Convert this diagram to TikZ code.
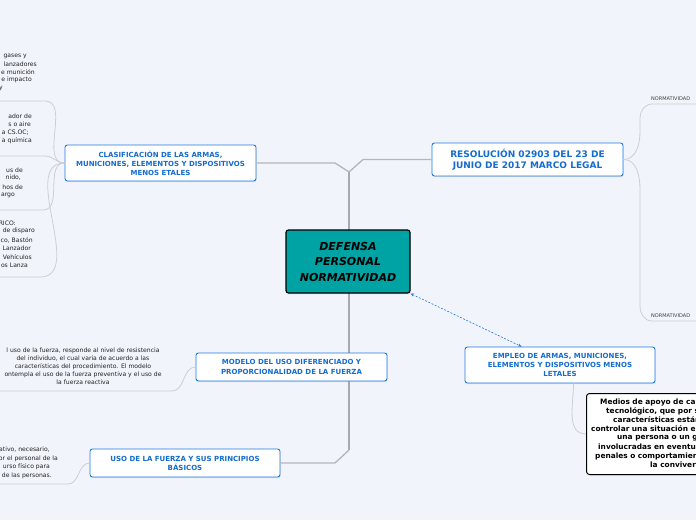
\documentclass[tikz,border=0pt]{standalone}
\usepackage{fontspec}
\setsansfont{DejaVu Sans}
\usepackage{xcolor}
\usetikzlibrary{arrows.meta}
\usetikzlibrary{shadows}

\definecolor{canvas}{RGB}{242,244,251}
\definecolor{topicblue}{RGB}{30,122,222}
\definecolor{topictext}{RGB}{20,108,206}
\definecolor{centralteal}{RGB}{0,163,163}
\definecolor{trunkgrey}{RGB}{168,168,174}
\definecolor{leafgrey}{RGB}{204,207,216}
\definecolor{leaftxt}{RGB}{35,35,35}

\tikzset{
  topic/.style={draw=topicblue, fill=white, line width=0.9pt, rounded corners=2.5pt,
    text=topictext, align=center, inner sep=0pt, minimum width=191pt,
    font=\sffamily\bfseries\fontsize{7}{9}\selectfont,
    drop shadow={shadow xshift=0.7pt, shadow yshift=-1pt, opacity=0.2}},
  centraltopic/.style={draw=black, fill=centralteal, line width=1.2pt, rounded corners=2.5pt,
    align=center, inner sep=0pt, font=\sffamily\bfseries\itshape\fontsize{11}{15.5}\selectfont,
    drop shadow={shadow xshift=0.7pt, shadow yshift=-1pt, opacity=0.25}},
  notebox/.style={draw=black, fill=white, line width=1pt, rounded corners=3pt, inner sep=0pt,
    drop shadow={shadow xshift=0.7pt, shadow yshift=-1pt, opacity=0.25}},
  leaf/.style={font=\sffamily\fontsize{6.1}{8}\selectfont, text=leaftxt, inner sep=0pt},
  notetext/.style={font=\sffamily\bfseries\fontsize{7.4}{9}\selectfont, text=black, inner sep=0pt},
  smalllabel/.style={font=\sffamily\fontsize{5}{6}\selectfont, text=black!75, inner sep=0pt},
  trunk/.style={draw=trunkgrey, line width=2.5pt},
  branch/.style={draw=trunkgrey!85, line width=1.3pt, line join=round},
  leafline/.style={draw=leafgrey, line width=0.8pt},
  link/.style={draw=topicblue, dashed, dash pattern=on 2pt off 1.5pt, line width=0.6pt,
    {Stealth[length=3.5pt,width=3pt]}-{Stealth[length=3.5pt,width=3pt]}}
}

\begin{document}
\begin{tikzpicture}[x=1pt,y=-1pt]
\useasboundingbox (0,0) rectangle (696,520);
\clip (0,0) rectangle (696,520);
\fill[canvas] (0,0) rectangle (696,520);

% trunk and main branches
\coordinate (trunktop) at (349,172);
\coordinate (trunkbot) at (349,450);
\coordinate (jleft) at (335,163);
\coordinate (jright) at (363,159.5);
\coordinate (jbot) at (335,463);
\draw[trunk] (trunktop) -- (trunkbot);

\node[topic, minimum height=36pt] (clasif) at (160.5,163)
  {CLASIFICACIÓN DE LAS ARMAS,\\MUNICIONES, ELEMENTOS Y DISPOSITIVOS\\MENOS ETALES};
\node[topic, minimum height=33pt, font=\sffamily\bfseries\fontsize{9}{11.5}\selectfont] (resol) at (527.5,159.5)
  {RESOLUCIÓN 02903 DEL 23 DE\\JUNIO DE 2017 MARCO LEGAL};
\node[topic, minimum height=28pt, font=\sffamily\bfseries\fontsize{7}{10}\selectfont] (modelo) at (291.5,367)
  {MODELO DEL USO DIFERENCIADO Y\\PROPORCIONALIDAD DE LA FUERZA};
\node[topic, minimum height=28pt, minimum width=190pt] (uso) at (185,463)
  {USO DE LA FUERZA Y SUS PRINCIPIOS\\BÁSICOS};
\node[topic, minimum height=36pt, minimum width=190pt] (empleo) at (560,365)
  {EMPLEO DE ARMAS, MUNICIONES,\\ELEMENTOS Y DISPOSITIVOS MENOS\\LETALES};

\draw[branch] (clasif.east) -- (jleft) -- (trunktop) -- (jright) -- (resol.west);
\draw[branch] (trunkbot) -- (jbot) -- (uso.east);

\node[centraltopic, minimum width=124pt, minimum height=63pt] (central) at (348,261.5)
  {DEFENSA\\PERSONAL\\NORMATIVIDAD};

\draw[link] (central.south east) -- ([xshift=57pt]empleo.north west);

% right leaves of the resolution
\coordinate (normtop) at (700,104);
\coordinate (normbot) at (700,321);
\draw[leafline] (resol.east) to[out=0,in=-90] (640,132) -- (640,118) to[out=90,in=180] (652,104) -- (normtop);
\draw[leafline] (resol.east) to[out=0,in=90] (640,190) -- (640,306) to[out=-90,in=180] (652,321) -- (normbot);
\node[smalllabel, anchor=west] (normA) at (651,98.5) {NORMATIVIDAD};
\node[smalllabel, anchor=west] (normB) at (651,315.5) {NORMATIVIDAD};

% left leaves of the classification
\coordinate (ulA) at (45,101);
\coordinate (ulB) at (45,156);
\coordinate (ulC) at (43,210);
\coordinate (ulD) at (40,277);
\foreach \ul in {ulA,ulB,ulC,ulD}
  \draw[leafline] (\ul -| 0,0) -- (\ul) to[out=0,in=180] (clasif.west);
\foreach \txt/\xr/\yy [count=\i] in {gases y/27/56, lanzadores/37/64, e munición/35/72, e impacto/32/80, y/3/88}
  \node[leaf, anchor=east] (leafA-\i) at (\xr,\yy) {\txt};
\foreach \txt/\xr/\yy [count=\i] in {ador de/32/116, s o aire/31/124, a CS.OC;/29/133, a química/32/141}
  \node[leaf, anchor=east] (leafB-\i) at (\xr,\yy) {\txt};
\foreach \txt/\xr/\yy [count=\i] in {us de/23/170, {nido,}/21/178, hos de/23/187, argo/15/195}
  \node[leaf, anchor=east] (leafC-\i) at (\xr,\yy) {\txt};
\foreach \txt/\xr/\yy [count=\i] in {RICO:/16/223, de disparo/35/231, {co, Bastón}/33/240, Lanzador/31/248, Vehículos/32/257, os Lanza/28/265}
  \node[leaf, anchor=east] (leafD-\i) at (\xr,\yy) {\txt};

% leaf of the model
\coordinate (ulM) at (172,391);
\draw[leafline] (ulM -| 0,0) -- (ulM) to[out=0,in=180] (modelo.west);
\node[leaf, align=center] (modeloleaf) at (83,366)
  {l uso de la fuerza, responde al nivel de resistencia\\del individuo, el cual varia de acuerdo a las\\características del procedimiento. El modelo\\ontempla el uso de la fuerza preventiva y el uso de\\la fuerza reactiva};

% leaf of the principles
\coordinate (ulU) at (68,484);
\draw[leafline] (ulU -| 0,0) -- (ulU) to[out=0,in=180] (uso.west);
\foreach \txt/\xr/\yy [count=\i] in {{ativo, necesario,}/50/450, or el personal de la/58/459, urso físico para/50/467, de las personas./52/476}
  \node[leaf, anchor=east] (leafU-\i) at (\xr,\yy) {\txt};

% note of the employment
\node[notebox, minimum width=180pt, minimum height=81pt, anchor=north west] (medios) at (586,393) {};
\draw[leafline] ([xshift=109pt]empleo.south west) to[out=-90,in=180] (medios.west);
\foreach \txt/\xl/\yy [count=\i] in {Medios de apoyo de ca/600/402, {tecnológico, que por s}/606/411, características están/613/420,
    controlar una situación e/591/429, una persona o un gru/617/438, involucradas en eventu/598/447,
    penales o comportamien/595/456, la conviver/650/465}
  \node[notetext, anchor=west] (note-\i) at (\xl,\yy) {\txt};
\end{tikzpicture}
\end{document}
